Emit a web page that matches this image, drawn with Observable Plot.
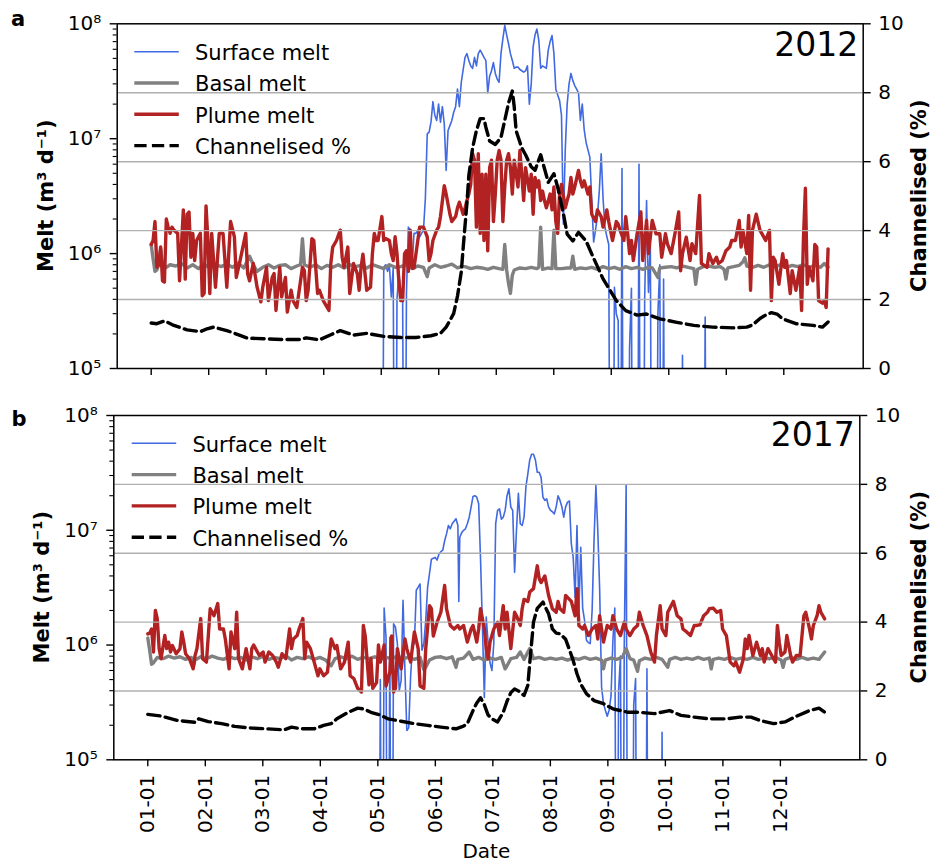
<!DOCTYPE html>
<html><head><meta charset="utf-8">
<script src="https://cdn.jsdelivr.net/npm/d3@7"></script>
<script src="https://cdn.jsdelivr.net/npm/@observablehq/plot@0.6"></script>
<style>
body{margin:0;background:#fff;}
#fig{position:relative;width:930px;height:863px;background:#fff;overflow:hidden;font-family:"DejaVu Sans",sans-serif;}
</style></head><body><div id="fig"></div>
<script>
// ---------- tick labels / categories ----------
const monthLabels = ["01-01","02-01","03-01","04-01","05-01","06-01","07-01","08-01","09-01","10-01","11-01","12-01"];
const monthTicks = [0,30.42,60.83,91.25,121.67,152.08,182.5,212.92,243.33,273.75,304.17,334.58];
const yMajor = [1e5,1e6,1e7,1e8];
const yMinor = [2e5,3e5,4e5,5e5,6e5,7e5,8e5,9e5,2e6,3e6,4e6,5e6,6e6,7e6,8e6,9e6,2e7,3e7,4e7,5e7,6e7,7e7,8e7,9e7];
const rightTicks = [0,2,4,6,8,10];
const gridVals = [2,4,6,8];
const seriesNames = ["Surface melt","Basal melt","Plume melt","Channelised %"];
const years = ["2012","2017"];

// ---------- 2012 (day of year, value) ----------
const surface2012 = [[120,100],[122,100],[123,7.6e5],[124,8e5],[125,7e5],[126,7.8e5],[127,4.2e5],[128,7.5e5],[129,100],[130,4e5],[131,7e5],[132,4.2e5],[133,4e5],[134,100],[135,4.5e5],[136,1.7e6],[137,1.6e6],[138,7.6e5],[139,1.5e6],[140,1.5e6],[141,1.6e6],[142,1.4e6],[143,1.5e6],[144,1.6e6],[145,3e6],[146,1.1e7],[147,1.14e7],[148,1.4e7],[149,2.1e7],[150,1.6e7],[151,1.44e7],[152,2e7],[153,1.39e7],[154,1.9e7],[155,1.35e7],[156,5.3e6],[157,1.18e7],[158,1.3e7],[159,1.44e7],[160,1.7e7],[161,1.9e7],[162,2.7e7],[163,1.9e7],[164,3.1e7],[165,4e7],[166,5.1e7],[167,5.5e7],[168,4.8e7],[169,4.3e7],[170,4.1e7],[171,5.1e7],[172,4.3e7],[173,5.5e7],[174,5.9e7],[175,5.5e7],[176,5.1e7],[177,4.8e7],[178,2.5e7],[179,3.5e7],[180,3.9e7],[181,4.6e7],[182,3.7e7],[183,3.3e7],[184,3.1e7],[185,5.5e7],[186,7.4e7],[187,9.7e7],[188,8e7],[189,6.7e7],[190,5.5e7],[191,4.8e7],[192,4.1e7],[193,4.2e7],[194,4.2e7],[195,4e7],[196,3.9e7],[197,3.8e7],[198,3.9e7],[199,4.3e7],[200,2e7],[201,3e7],[202,6.3e7],[203,8e7],[204,9e7],[205,7.2e7],[206,4.1e7],[207,4.3e7],[208,4.2e7],[209,4.1e7],[210,5.9e7],[211,7e7],[212,7.9e7],[213,5.5e7],[214,2.7e7],[215,2.4e7],[216,2.15e7],[217,1.6e7],[218,1.8e6],[219,8e6],[220,2e7],[221,3e7],[222,3.7e7],[223,3.2e7],[224,2.9e7],[225,2.7e7],[226,2.5e7],[227,1.44e7],[228,2e7],[229,1.2e7],[230,9.3e6],[231,8e6],[232,6.9e6],[233,2.9e6],[234,1.26e6],[235,1.6e6],[236,2.1e6],[237,3.5e6],[238,7.4e6],[239,3e6],[240,1.7e6],[241,1.4e6],[242,1.2e6],[243,100],[244,100],[245,5.1e5],[246,3e5],[247,2.6e5],[248,100],[249,5.5e6],[250,100],[252,100],[253,1.5e5],[254,5e5],[255,100],[257,100],[258,6e6],[259,100],[260,100],[261,4e5],[262,2.9e6],[263,4.6e5],[264,1.2e6],[265,100],[267,100],[268,3e5],[269,8e5],[270,100],[271,6e5],[272,100],[280,100],[281,1.3e5],[282,100],[292,100],[293,2.8e5],[294,100]];

const basal2012 = [[0,1.2e6],[1,9e5],[2,7e5],[3,7.2e5],[4,8e5],[5,1.1e6],[6,8e5],[8,7.6e5],[10,8e5],[13,7.8e5],[16,8.2e5],[19,7.5e5],[22,8e5],[25,7.4e5],[28,8.1e5],[31,7.5e5],[34,8e5],[37,7.7e5],[40,8.1e5],[43,7.6e5],[46,8.3e5],[49,7.5e5],[52,9.5e5],[54,8e5],[56,7e5],[59,7.6e5],[62,8e5],[65,7.5e5],[68,7.9e5],[71,8e5],[74,7.4e5],[77,7.8e5],[79,8e5],[80,1.35e6],[81,8e5],[84,7.6e5],[87,8e5],[90,7.4e5],[93,7.9e5],[96,7.6e5],[99,8e5],[102,7.5e5],[105,8e5],[108,7.7e5],[111,7.9e5],[114,7.5e5],[117,8e5],[120,7.7e5],[123,7.4e5],[126,8e5],[129,7.6e5],[132,7.7e5],[135,8e5],[138,7.4e5],[141,7.8e5],[144,7.6e5],[146,6.3e5],[147,7.5e5],[150,8e5],[153,7.6e5],[156,7.8e5],[159,8.1e5],[162,7.5e5],[164,7.7e5],[166,7.7e5],[169,7.4e5],[172,7.6e5],[175,7.5e5],[178,7.3e5],[181,7.6e5],[184,7.4e5],[186,7.3e5],[187,1.2e6],[188,7.2e5],[189,5.5e5],[190,4.5e5],[191,6.5e5],[192,7.2e5],[195,7.5e5],[198,7.4e5],[201,7.6e5],[204,7.4e5],[205,7.6e5],[206,1.7e6],[207,7.3e5],[210,7.5e5],[212,7.4e5],[213,1.6e6],[214,7.4e5],[217,7.4e5],[220,7.5e5],[222,7.5e5],[223,9.5e5],[224,7.3e5],[227,7.5e5],[230,7.4e5],[233,7.6e5],[236,7.3e5],[239,7.7e5],[242,7.4e5],[245,7.6e5],[248,7.3e5],[251,7.7e5],[254,7.4e5],[257,7.6e5],[260,7.3e5],[263,7.6e5],[265,7.5e5],[268,6.2e5],[269,7.5e5],[272,7.6e5],[275,7.7e5],[278,7.5e5],[281,7.8e5],[284,7.6e5],[287,7.4e5],[288,5.4e5],[289,7.3e5],[292,7.7e5],[295,7.8e5],[298,7.6e5],[301,7.7e5],[303,7.3e5],[304,6e5],[305,7.5e5],[308,7.7e5],[311,7.9e5],[313,8.5e5],[314,9.2e5],[315,7.8e5],[318,7.6e5],[321,7.9e5],[324,7.6e5],[327,8e5],[330,7.7e5],[333,8e5],[336,7.6e5],[339,7.9e5],[342,7.7e5],[345,8e5],[348,7.6e5],[351,7.9e5],[354,7.6e5],[356,8.2e5],[358,7.6e5]];

const plume2012 = [[0,1.2e6],[1,1.3e6],[2,1.9e6],[3,7.6e5],[4,8e5],[5,1.14e6],[6,5.8e5],[7,5.65e5],[8,2e6],[9,1.7e6],[10,1.5e6],[11,1.7e6],[12,1.6e6],[14,1.5e6],[15,5.8e5],[17,2.4e6],[18,6e5],[19,2.2e6],[20,2.3e6],[21,9.3e5],[22,1.5e6],[23,8.7e5],[24,1.3e6],[26,1.5e6],[27,4.3e5],[28,4.5e5],[29,2.6e6],[30,1.3e6],[31,4.5e5],[32,1.5e6],[34,5.1e5],[36,1.5e6],[38,1.5e6],[40,5.1e5],[42,1.9e6],[44,1.4e6],[45,6.2e5],[47,8.7e5],[50,1.5e6],[51,6.7e5],[52,5.8e5],[54,8.2e5],[56,5.1e5],[58,3.8e5],[59,5.1e5],[61,7.6e5],[62,3.9e5],[64,6.2e5],[65,6.7e5],[66,3.2e5],[68,7.6e5],[69,4.2e5],[71,6.2e5],[72,3.1e5],[74,4.8e5],[75,3.9e5],[77,3.4e5],[79,5.8e5],[80,7.6e5],[81,7.1e5],[82,3.9e5],[83,4.8e5],[85,1.35e6],[86,1.3e6],[88,4.5e5],[89,4.8e5],[91,3.9e5],[94,3.2e5],[95,8.2e5],[96,1.14e6],[98,1.3e6],[100,1.6e6],[101,9.3e5],[102,7.6e5],[104,1.14e6],[105,4.5e5],[107,8.2e5],[109,6.7e5],[110,4.8e5],[111,7.6e5],[112,9.9e5],[114,4.8e5],[116,5.1e5],[117,1e6],[118,1.5e6],[119,1.3e6],[120,1.3e6],[122,2.1e6],[123,1.3e6],[124,1.35e6],[126,1.3e6],[127,1e6],[128,8.7e5],[129,1.4e6],[130,1e6],[131,5.8e5],[132,3.9e5],[133,3.9e5],[134,1e6],[135,1.06e6],[136,7e5],[137,1.6e6],[138,7.5e5],[139,7.5e5],[141,1.3e6],[142,1.7e6],[144,1.7e6],[146,1.4e6],[147,8.7e5],[148,1e6],[149,1.3e6],[151,1.6e6],[152,1.7e6],[153,2.1e6],[155,3.9e6],[156,3.3e6],[158,2.2e6],[159,1.9e6],[161,2.1e6],[162,2.5e6],[163,2.8e6],[165,2.2e6],[166,2.5e6],[167,2.9e6],[168,3.3e6],[169,4e6],[170,7.4e6],[171,6.5e6],[172,1.7e6],[173,7.4e6],[174,1.5e6],[175,4.9e6],[176,1.3e6],[177,4.9e6],[178,1.06e6],[179,5.6e6],[180,6.5e6],[181,1.9e6],[182,3.3e6],[183,6.5e6],[184,7.9e6],[185,6.5e6],[186,1.9e6],[187,3.8e6],[188,6.5e6],[189,7.4e6],[190,5.6e6],[191,3.3e6],[192,6.5e6],[194,3.8e6],[195,7.9e6],[196,4.9e6],[197,2.9e6],[198,5.6e6],[200,3.5e6],[201,4.9e6],[202,2.2e6],[203,4.6e6],[204,3.8e6],[205,4.3e6],[206,2.9e6],[207,3.5e6],[208,2.9e6],[209,2.5e6],[211,3.3e6],[212,2.4e6],[213,3.8e6],[214,1.9e6],[215,1.5e6],[216,3.3e6],[217,4e6],[219,2.5e6],[220,2.9e6],[221,3.3e6],[222,4.6e6],[223,3.3e6],[224,3.8e6],[226,5.3e6],[227,4.3e6],[228,3.8e6],[229,4.3e6],[231,3.3e6],[232,3.8e6],[233,2.2e6],[235,1.9e6],[236,2.4e6],[238,2.1e6],[239,1.7e6],[241,2.4e6],[242,1.9e6],[244,1.3e6],[246,1.9e6],[247,1.8e6],[248,1.59e6],[250,1.3e6],[251,2.1e6],[252,1.49e6],[253,1e6],[254,1.3e6],[255,8.7e5],[257,1.49e6],[259,2.3e6],[260,8.7e5],[261,1.3e6],[262,1.94e6],[263,1e6],[265,1.94e6],[266,1.7e6],[267,1.49e6],[269,1.49e6],[270,9.3e5],[272,1.49e6],[273,1.22e6],[275,1e6],[277,1.49e6],[279,2.3e6],[280,7.1e5],[281,1e6],[283,1.39e6],[285,8.7e5],[286,1.22e6],[288,1e6],[290,3.2e6],[291,8.2e5],[294,7.6e5],[295,1e6],[297,8.2e5],[299,9.3e5],[300,8.2e5],[302,8.7e5],[304,1.06e6],[306,1.14e6],[307,1.3e6],[309,1.3e6],[311,1.94e6],[312,1.14e6],[313,1.59e6],[315,1e6],[316,2.15e6],[317,4.8e5],[318,1.59e6],[320,2.2e6],[322,1.59e6],[323,1.49e6],[325,1.3e6],[327,1.59e6],[328,3.9e5],[329,9.3e5],[330,8.7e5],[332,5.4e5],[334,1e6],[335,7.6e5],[336,8.7e5],[338,4.5e5],[339,7.1e5],[341,4.8e5],[343,7.6e5],[344,3.2e5],[345,1.39e6],[346,3.7e6],[347,5.4e5],[348,7.6e5],[350,5.8e5],[351,1.2e6],[352,1.14e6],[353,3.9e5],[355,3.7e5],[356,3.9e5],[357,3.4e5],[358,1.1e6]];

const chan2012 = [[0,1.32],[3,1.3],[7,1.38],[12,1.25],[19,1.12],[26,1.07],[29,1.14],[33,1.2],[40,1.1],[47,0.96],[51,0.88],[61,0.86],[70,0.84],[79,0.84],[82,0.89],[89,0.83],[95,0.98],[100,1.1],[107,0.97],[114,1.02],[123,0.93],[132,0.9],[140,0.9],[148,0.95],[153,1.02],[156,1.2],[158,1.39],[160,1.6],[162,2.1],[164,2.8],[165,3.5],[167,4.8],[168,5.6],[170,6.4],[172,6.9],[174,7.25],[176,7.25],[177,7.0],[179,6.6],[182,6.5],[185,6.7],[187,7.2],[189,7.7],[191,8.05],[192,7.6],[193,6.9],[196,6.4],[198,6.2],[201,5.85],[203,5.75],[206,6.2],[208,5.8],[210,5.4],[213,5.65],[215,5.26],[218,4.5],[220,3.9],[223,3.7],[226,3.95],[230,3.7],[234,3.2],[239,2.6],[244,2.15],[246,1.97],[251,1.68],[257,1.55],[262,1.58],[269,1.44],[278,1.34],[287,1.25],[297,1.2],[308,1.18],[315,1.2],[318,1.26],[322,1.45],[325,1.55],[328,1.62],[331,1.58],[334,1.44],[341,1.3],[350,1.25],[355,1.2],[358,1.35]];

// ---------- 2017 ----------
const surface2017 = [[121,100],[122,100],[123,5e5],[124,100],[125,2.1e6],[126,1.17e6],[127,100],[128,1.17e6],[129,100],[130,1.53e6],[131,1.43e6],[132,1.03e6],[133,4e5],[134,4.9e5],[135,2.45e6],[136,6e5],[137,1.8e5],[138,1.9e5],[139,5.3e5],[140,1e6],[141,1.03e6],[142,3e6],[143,3.2e6],[144,3.4e6],[145,9e5],[146,1.03e6],[147,1.64e6],[148,3.2e6],[149,4.2e6],[150,5.6e6],[151,5.7e6],[152,5.8e6],[153,5.5e6],[154,6.2e6],[155,6.5e6],[156,6.7e6],[157,8.1e6],[158,9.3e6],[159,1.1e7],[160,1.03e7],[161,1.14e7],[162,1.2e7],[163,1.26e7],[164,1.1e7],[164.5,2.4e6],[165,8.7e6],[166,9.5e6],[167,1e7],[168,1.03e7],[169,1.14e7],[170,1.3e7],[171,1.59e7],[172,1.97e7],[173,2e7],[174,1.94e7],[175,1.7e7],[176,5.5e6],[177,1.43e6],[178,3.5e5],[179,1.75e6],[180,1.03e6],[181,7e5],[182,6e5],[183,1.03e6],[184,1.14e7],[185,1.49e7],[186,1.54e7],[187,1.25e7],[188,1.3e7],[189,1.49e7],[190,2e7],[191,2.3e7],[192,1.59e7],[193,1.49e7],[194,4.3e6],[195,1e7],[196,2.1e7],[197,1.14e7],[198,1.1e7],[199,1.3e7],[200,2.4e7],[201,3.1e7],[202,4.1e7],[203,4.6e7],[204,4.6e7],[205,4.1e7],[206,3.2e7],[207,3.2e7],[208,2.9e7],[209,1.94e7],[210,1.82e7],[211,1.88e7],[212,1.59e7],[213,1.49e7],[214,1.45e7],[215,1.39e7],[216,1.6e7],[217,2e7],[218,1.82e7],[219,1.6e7],[220,1.3e7],[221,1.6e7],[222,1.76e7],[223,1.8e7],[224,7.6e6],[225,5.8e6],[226,2.6e6],[227,1.1e7],[228,2e6],[229,7.1e6],[230,2.1e6],[231,1.64e6],[232,1.1e6],[233,1.05e6],[234,1.03e6],[235,2e6],[236,8e6],[237,2.45e7],[238,1e7],[239,3e6],[240,4.3e5],[241,3.1e5],[242,2.7e5],[243,2.4e5],[244,2.7e5],[245,3.6e5],[246,1.1e6],[247,2.1e6],[248,100],[249,4e5],[250,8e5],[251,100],[252,1e6],[253,2.45e7],[254,100],[256,100],[257,3e5],[258,5.1e5],[259,100],[263,100],[264,6.2e5],[265,100],[271,100],[272,1.74e5],[273,100]];

const basal2017 = [[0,1.15e6],[1,9e5],[2,6.8e5],[3,7e5],[5,7.8e5],[8,7.6e5],[11,8e5],[14,7.7e5],[17,7.9e5],[20,7.5e5],[23,7.8e5],[24,6.4e5],[25,7.4e5],[28,7.9e5],[31,7.6e5],[34,8e5],[37,7.7e5],[40,7.5e5],[43,7.9e5],[46,7.6e5],[49,7.8e5],[52,7.4e5],[55,7.9e5],[58,7.6e5],[61,8e5],[64,7.5e5],[67,7.8e5],[70,7.6e5],[73,8.1e5],[76,7.4e5],[79,7.8e5],[82,7.6e5],[85,7.9e5],[88,7.5e5],[91,7.8e5],[94,7.4e5],[97,6.6e5],[99,7.6e5],[102,7.9e5],[105,7.6e5],[108,8e5],[111,7.5e5],[114,7.8e5],[117,7.6e5],[120,7.9e5],[123,7.5e5],[126,7.8e5],[129,7.6e5],[132,8e5],[135,7.6e5],[138,7.8e5],[141,7.5e5],[144,7.8e5],[146,6.1e5],[147,6.4e5],[149,7.4e5],[152,7.8e5],[155,7.9e5],[158,7.6e5],[161,7.9e5],[163,6.4e5],[164,7.5e5],[167,7.7e5],[170,8.7e5],[172,7.5e5],[175,7.8e5],[178,7.4e5],[181,7.7e5],[184,7.5e5],[187,7.8e5],[189,6.2e5],[190,6.6e5],[192,7.6e5],[195,7.8e5],[197,8.7e5],[199,7.5e5],[202,9.3e5],[204,7.6e5],[207,7.8e5],[210,7.5e5],[213,7.7e5],[216,7.5e5],[219,7.7e5],[222,7.4e5],[225,7.7e5],[228,7.5e5],[231,7.8e5],[234,7.5e5],[237,7.7e5],[240,7.4e5],[241,6.2e5],[242,7.4e5],[245,7.7e5],[248,7.5e5],[251,7.8e5],[253,9.3e5],[255,7.6e5],[257,7.4e5],[259,5.9e5],[260,7.3e5],[263,7.7e5],[266,7.5e5],[269,7.8e5],[272,7.5e5],[275,6.4e5],[276,7.5e5],[279,7.8e5],[282,7.5e5],[285,7.7e5],[288,7.5e5],[291,7.8e5],[294,7.5e5],[297,7.7e5],[298,6.2e5],[299,7.5e5],[302,7.7e5],[305,7.5e5],[308,7.8e5],[311,7.5e5],[314,7.7e5],[317,7.5e5],[320,7.8e5],[323,7.5e5],[326,7.7e5],[329,7.6e5],[332,7.8e5],[335,7.4e5],[336,6.4e5],[337,7.5e5],[340,7.8e5],[343,7.5e5],[346,7.8e5],[349,7.5e5],[352,7.7e5],[355,7.5e5],[358,8.7e5]];

const plume2017 = [[0,1.25e6],[1,1.27e6],[2,1.38e6],[3,8.7e5],[4,2e6],[5,1.7e6],[6,9.3e5],[7,7.6e5],[9,1.21e6],[10,9.3e5],[11,1.06e6],[12,8.7e5],[13,9.9e5],[15,8.4e5],[17,9.3e5],[18,1.3e6],[19,1.06e6],[20,8.4e5],[22,7.6e5],[24,6.2e5],[25,8.1e5],[26,9.3e5],[28,1.7e6],[29,7.6e5],[31,7.1e5],[32,1.21e6],[33,2.07e6],[35,1.8e6],[37,2.3e6],[38,1.38e6],[40,1.38e6],[41,1.13e6],[43,6.2e5],[44,1.3e6],[46,9.3e5],[47,1.93e6],[48,7.6e5],[50,6.2e5],[52,9.3e5],[54,6.2e5],[55,9.3e5],[56,1e6],[59,8.1e5],[61,8.7e5],[62,7.1e5],[64,8.7e5],[66,8.1e5],[68,7.1e5],[69,6.4e5],[71,8.4e5],[73,7.6e5],[75,1.38e6],[76,9.3e5],[77,1.13e6],[79,1.21e6],[80,1.38e6],[82,1.7e6],[83,7.6e5],[84,1.06e6],[86,9.3e5],[88,7.1e5],[90,5.4e5],[91,6.2e5],[93,5.4e5],[95,5.8e5],[97,1.13e6],[99,9.3e5],[100,9.9e5],[102,6.2e5],[104,7.1e5],[106,1.06e6],[107,5.4e5],[109,5.1e5],[111,4.2e5],[113,3.9e5],[114,1.48e6],[115,1.2e6],[117,4.5e5],[118,7.6e5],[119,4.2e5],[121,4.7e5],[122,1e6],[123,7.1e5],[125,1e6],[126,4.4e5],[128,5.8e5],[129,1.2e6],[130,3.9e5],[131,4.2e5],[132,9.3e5],[134,6.2e5],[136,1.13e6],[137,9.3e5],[139,7.1e5],[141,1.3e6],[143,9.3e5],[144,4.4e5],[146,4.2e5],[147,9.3e5],[149,2.2e6],[150,2.07e6],[151,1.2e6],[153,1.58e6],[155,1.93e6],[157,3.3e6],[158,2.07e6],[160,1.48e6],[162,1.38e6],[164,1.48e6],[165,1.38e6],[167,1.48e6],[169,1.06e6],[171,1.38e6],[172,1.48e6],[174,1.06e6],[175,1.38e6],[176,2.07e6],[178,1.38e6],[179,9.3e5],[180,7.6e5],[181,1.06e6],[182,1.21e6],[183,1.38e6],[185,1.58e6],[186,1.21e6],[188,2.2e6],[189,1.38e6],[190,1.93e6],[192,9.3e5],[194,1.93e6],[195,1.8e6],[197,1.48e6],[198,2.07e6],[199,2.5e6],[201,2.4e6],[202,2.9e6],[204,3.1e6],[206,4.9e6],[207,3.8e6],[208,3.5e6],[210,4e6],[212,2.7e6],[214,2.07e6],[216,1.93e6],[217,2.4e6],[218,2.07e6],[220,1.93e6],[221,2.7e6],[223,2.5e6],[224,2.4e6],[226,1.8e6],[227,3.1e6],[228,1.48e6],[230,1.38e6],[231,1.48e6],[233,1.21e6],[235,1.38e6],[237,1.48e6],[238,1.13e6],[239,1.8e6],[241,1.06e6],[243,1.48e6],[245,1.38e6],[246,1.8e6],[248,1.38e6],[250,1.21e6],[252,1.58e6],[253,1.38e6],[255,1.21e6],[257,1.38e6],[259,1.48e6],[260,1.93e6],[262,1.48e6],[264,1.21e6],[266,8.7e5],[268,7.1e5],[269,1.21e6],[271,2.2e6],[272,1.38e6],[274,1.21e6],[275,1.93e6],[278,2.4e6],[280,1.8e6],[282,1.69e6],[283,1.38e6],[285,1.3e6],[287,1.21e6],[289,1.48e6],[290,1.48e6],[292,1.5e6],[294,1.8e6],[296,1.93e6],[297,2.07e6],[299,2.1e6],[301,1.93e6],[303,2e6],[304,1.38e6],[306,1.21e6],[308,7.1e5],[310,6.6e5],[311,7.1e5],[313,5.8e5],[315,7.6e5],[316,1.13e6],[317,9.3e5],[318,1.21e6],[320,8.1e5],[322,1.06e6],[324,8.1e5],[325,9.3e5],[326,7.1e5],[328,9.3e5],[330,8.1e5],[332,7.1e5],[333,1.48e6],[334,1.06e6],[335,8.1e5],[337,8.7e5],[338,1.21e6],[340,8.1e5],[341,7.1e5],[343,8.1e5],[345,8.1e5],[347,1.8e6],[348,1.93e6],[350,1.38e6],[351,1.13e6],[352,1.48e6],[354,1.8e6],[355,2.2e6],[356,1.93e6],[358,1.69e6]];

const chan2017 = [[0,1.32],[7,1.27],[16,1.14],[25,1.09],[27,1.19],[32,1.11],[39,1.05],[46,0.97],[55,0.92],[63,0.9],[72,0.87],[76,0.95],[81,0.9],[88,0.9],[93,1.0],[97,1.05],[100,1.19],[106,1.38],[111,1.5],[114,1.48],[118,1.38],[123,1.3],[127,1.19],[134,1.12],[141,1.05],[148,1.0],[155,0.95],[163,0.9],[167,0.98],[169,1.05],[172,1.43],[174,1.65],[176,1.8],[178,1.6],[180,1.3],[182,1.19],[185,1.1],[188,1.38],[190,1.7],[192,1.95],[194,2.06],[196,2.0],[199,1.87],[201,2.16],[202,2.8],[203,3.4],[204,4.0],[206,4.4],[209,4.58],[212,4.24],[214,3.8],[216,3.68],[218,3.66],[221,3.5],[223,3.2],[225,2.88],[227,2.5],[229,2.2],[232,1.92],[236,1.72],[241,1.63],[246,1.48],[250,1.43],[254,1.38],[260,1.38],[268,1.34],[276,1.43],[282,1.29],[289,1.24],[297,1.19],[306,1.19],[313,1.24],[319,1.24],[324,1.14],[331,1.05],[337,1.1],[342,1.24],[350,1.43],[355,1.5],[358,1.38]];

// ---------- build ----------
const FONT = "DejaVu Sans";
const COL = {surface: "#4169e1", basal: "#808080", plume: "#b22222", chan: "#000000", grid: "#b0b0b0"};
const DASH = "12.3,5.3";
const W = 930;
const xDomain = [-17.98, 376.58];
const toObj = a => a.map(([d, v]) => ({d, v}));
const labelOf = new Map(monthTicks.map((t, i) => [t, monthLabels[i]]));
const supDigits = {"5": "\u2075", "6": "\u2076", "7": "\u2077", "8": "\u2078"};
const fmtPow = d => "10" + supDigits[String(Math.round(Math.log10(d)))];
const fig = document.getElementById("fig");

function place(svg, top) {
  svg.style.position = "absolute";
  svg.style.left = "0px";
  svg.style.top = top + "px";
  fig.appendChild(svg);
}

function panel(cfg) {
  const dims = {width: W, height: cfg.height, marginLeft: cfg.mL, marginRight: cfg.mR, marginTop: cfg.mT, marginBottom: cfg.mB};
  const style = {background: "transparent", fontFamily: FONT, fontSize: "20px", color: "black", overflow: "visible"};
  const melt = Plot.plot({
    ...dims, style,
    x: {domain: xDomain},
    y: {type: "log", domain: [1e5, 1e8]},
    marks: [
      Plot.line(toObj(cfg.surface), {x: "d", y: "v", stroke: COL.surface, strokeWidth: 1.6, clip: true}),
      Plot.line(toObj(cfg.basal), {x: "d", y: "v", stroke: COL.basal, strokeWidth: 3.4, clip: true}),
      Plot.line(toObj(cfg.plume), {x: "d", y: "v", stroke: COL.plume, strokeWidth: 3.4, clip: true}),
      Plot.axisY(yMajor, {anchor: "left", tickSize: 7, tickPadding: 9, tickFormat: fmtPow, fontSize: 20, label: null, strokeWidth: 1.4}),
      Plot.axisY(yMinor, {anchor: "left", tickSize: 4, tickFormat: () => "", label: null, strokeWidth: 1.1}),
      Plot.axisX(monthTicks, {anchor: "bottom", tickSize: 7, tickPadding: 8, tickRotate: -90, fontSize: 20, label: null, strokeWidth: 1.4,
        tickFormat: cfg.xLabels ? (d => labelOf.get(d)) : (() => "")})
    ]
  });
  const chan = Plot.plot({
    ...dims, style,
    x: {domain: xDomain, axis: null},
    y: {domain: [0, 10]},
    marks: [
      Plot.ruleY(gridVals, {stroke: COL.grid, strokeWidth: 1.4}),
      Plot.line(toObj(cfg.chan), {x: "d", y: "v", stroke: COL.chan, strokeWidth: 3.4, strokeDasharray: DASH}),
      Plot.axisY(rightTicks, {anchor: "right", tickSize: 7, tickPadding: 8, fontSize: 20, label: null, strokeWidth: 1.4}),
      Plot.frame({stroke: "black", strokeWidth: 1.5}),
      Plot.text([cfg.year], {frameAnchor: "top-right", dx: -5, dy: cfg.yearDy, fontSize: 33, textAnchor: "end", lineAnchor: "top"})
    ]
  });
  place(melt, cfg.top);
  place(chan, cfg.top);
}

panel({top: 0, height: 392, mL: 116.7, mR: 67.3, mT: 23.3, mB: 24, surface: surface2012, basal: basal2012, plume: plume2012, chan: chan2012, year: years[0], yearDy: 8.4, xLabels: false});
panel({top: 392, height: 471, mL: 113.3, mR: 70.7, mT: 23, mB: 103.7, surface: surface2017, basal: basal2017, plume: plume2017, chan: chan2017, year: years[1], yearDy: 6.7, xLabels: true});

// ---------- overlay text: legends, labels ----------
const ov = d3.select(fig).append("svg").attr("width", W).attr("height", 863)
  .style("position", "absolute").style("left", "0px").style("top", "0px")
  .style("font-family", FONT).style("pointer-events", "none");
const legendStyle = [
  {color: COL.surface, w: 1.6, dash: null},
  {color: COL.basal, w: 3.4, dash: null},
  {color: COL.plume, w: 3.4, dash: null},
  {color: COL.chan, w: 3.4, dash: DASH}
];
function legend(x0, y0) {
  seriesNames.forEach((name, i) => {
    const y = y0 + i * 31.3;
    const s = legendStyle[i];
    ov.append("line").attr("x1", x0).attr("x2", x0 + 44.5).attr("y1", y).attr("y2", y)
      .attr("stroke", s.color).attr("stroke-width", s.w).attr("stroke-dasharray", s.dash);
    ov.append("text").attr("x", x0 + 60.7).attr("y", y + 8.3).attr("font-size", 21).text(name);
  });
}
legend(134.3, 51.7);
legend(131.7, 443.3);

function vlabel(x, y, txt) {
  ov.append("text").attr("transform", `translate(${x},${y}) rotate(-90)`).attr("text-anchor", "middle")
    .attr("font-weight", "bold").attr("font-size", 21).text(txt);
}
vlabel(52.7, 195.7, "Melt (m\u00b3 d\u207b\u00b9)");
vlabel(49.3, 587.2, "Melt (m\u00b3 d\u207b\u00b9)");
vlabel(925.5, 195.7, "Channelised (%)");
vlabel(925.5, 587.2, "Channelised (%)");

ov.append("text").attr("x", 11).attr("y", 26).attr("font-weight", "bold").attr("font-size", 21).text("a");
ov.append("text").attr("x", 11.5).attr("y", 425.7).attr("font-weight", "bold").attr("font-size", 21).text("b");
ov.append("text").attr("x", 486.3).attr("y", 858).attr("text-anchor", "middle").attr("font-size", 20).text("Date");
</script></body></html>
